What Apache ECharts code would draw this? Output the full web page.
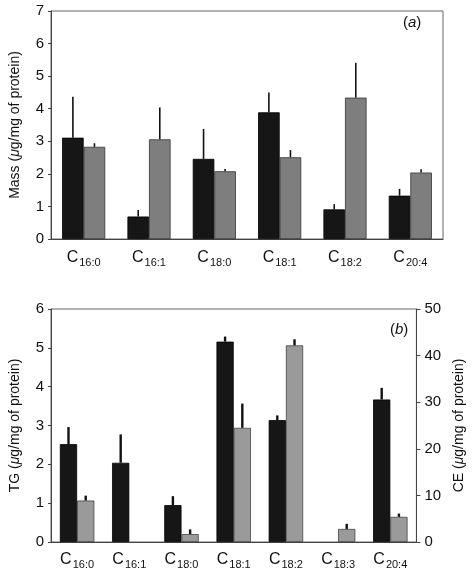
<!DOCTYPE html>
<html><head><meta charset="utf-8">
<script src="https://cdn.jsdelivr.net/npm/echarts@6/dist/echarts.min.js"></script>
<style>html,body{margin:0;padding:0;background:#fff}#c{width:474px;height:570px}</style>
</head><body><div id="c"></div>
<script>
// Panel (a)
const catsA = ['16:0','16:1','18:0','18:1','18:2','20:4'];
const massBlack = [3.11, 0.69, 2.46, 3.89, 0.91, 1.33];
const massBlackErr = [1.26, 0.20, 0.92, 0.61, 0.16, 0.21];
const massGray = [2.83, 3.06, 2.08, 2.51, 4.34, 2.04];
const massGrayErr = [0.11, 0.98, 0.07, 0.22, 1.07, 0.10];
// Panel (b)
const catsB = ['16:0','16:1','18:0','18:1','18:2','18:3','20:4'];
const tgVals = [2.52, 2.04, 0.95, 5.16, 3.14, null, 3.67];
const tgErr = [0.44, 0.73, 0.23, 0.13, 0.12, null, 0.30];
const ceVals = [8.9, null, 1.7, 24.5, 42.2, 2.8, 5.4];
const ceErr = [1.05, null, 1.0, 5.2, 1.3, 1.1, 0.7];

const FONT = 'Liberation Sans, Arial, Helvetica, sans-serif';
const GAP = 0.34;

function catLabel(v){ return '{c|C}{s|' + v + '}'; }
const catRich = {
  c: {fontSize: 16, fontFamily: FONT, color: '#111'},
  s: {fontSize: 11, fontFamily: FONT, color: '#111', padding:[9,0,0,1]}
};
function yName(prefix){ return '{n|' + prefix + ' (}{i|μ}{n|g/mg of protein)}'; }
const nameRich = {
  n: {fontSize: 14, fontFamily: FONT, color: '#111'},
  i: {fontSize: 14, fontFamily: FONT, color: '#111', fontStyle: 'italic'}
};
const panelRich = {
  n: {fontSize: 15, fontFamily: FONT, color: '#111'},
  i: {fontSize: 15, fontFamily: FONT, color: '#111', fontStyle: 'italic'}
};

function errData(vals, errs){
  return vals.map((v,i)=> (v==null||errs[i]==null) ? [i, null, null] : [i, v, v+errs[i]]);
}
function errSeries(vals, errs, xi, yi, side, width){
  return {
    type: 'custom', xAxisIndex: xi, yAxisIndex: yi, z: 5,
    data: errData(vals, errs),
    renderItem: function(params, api){
      if (api.value(1) == null || isNaN(api.value(1))) return null;
      const band = api.size([1, 0])[0];
      const bw = band * (1 - GAP) / 2;
      const base = api.coord([api.value(0), api.value(1)]);
      const top = api.coord([api.value(0), api.value(2)]);
      const x = base[0] + side * bw / 2;
      return {type: 'line', shape: {x1: x, y1: base[1], x2: x, y2: top[1]},
              style: {stroke: '#111', lineWidth: width}};
    }
  };
}

const axisLineStyle = {lineStyle: {color: '#444', width: 1}};
const chart = echarts.init(document.getElementById('c'));
chart.setOption({
  animation: false,
  textStyle: {fontFamily: FONT},
  graphic: [
    {type: 'text', left: 403, top: 15, style: {text: '({i|a})', rich: panelRich, font: '15px ' + FONT, fill: '#111'}},
    {type: 'text', left: 390, top: 322, style: {text: '({i|b})', rich: panelRich, font: '15px ' + FONT, fill: '#111'}}
  ],
  grid: [
    {left: 44, right: 31, top: 11, bottom: 331, show: true, borderColor: '#666', borderWidth: 1},
    {left: 44, right: 47, top: 309, bottom: 27, show: true, borderColor: '#666', borderWidth: 1}
  ],
  xAxis: [
    {gridIndex: 0, type: 'category', data: catsA, axisLine: axisLineStyle,
     axisTick: {alignWithLabel: true, length: 4, lineStyle: {color: '#444'}},
     axisLabel: {interval: 0, formatter: catLabel, rich: catRich, margin: 9}},
    {gridIndex: 1, type: 'category', data: catsB, axisLine: axisLineStyle,
     axisTick: {alignWithLabel: true, length: 4, lineStyle: {color: '#444'}},
     axisLabel: {interval: 0, formatter: catLabel, rich: catRich, margin: 8}}
  ],
  yAxis: [
    {gridIndex: 0, type: 'value', min: 0, max: 7, interval: 1, splitLine: {show: false},
     axisLine: {show: true, lineStyle: {color: '#444'}}, axisTick: {show: true, length: 3, lineStyle:{color:'#444'}},
     axisLabel: {fontSize: 15, color: '#111', margin: 7},
     name: yName('Mass'), nameLocation: 'middle', nameGap: 29, nameRotate: 90,
     nameTextStyle: {rich: nameRich}},
    {gridIndex: 1, type: 'value', min: 0, max: 6, interval: 1, splitLine: {show: false},
     axisLine: {show: true, lineStyle: {color: '#444'}}, axisTick: {show: true, length: 3, lineStyle:{color:'#444'}},
     axisLabel: {fontSize: 15, color: '#111', margin: 7},
     name: yName('TG'), nameLocation: 'middle', nameGap: 29, nameRotate: 90,
     nameTextStyle: {rich: nameRich}},
    {gridIndex: 1, type: 'value', position: 'right', min: 0, max: 50, interval: 10, splitLine: {show: false},
     axisLine: {show: true, lineStyle: {color: '#444'}}, axisTick: {show: true, length: 4, lineStyle:{color:'#444'}},
     axisLabel: {fontSize: 15, color: '#111', margin: 8},
     name: yName('CE'), nameLocation: 'middle', nameGap: 34, nameRotate: 90,
     nameTextStyle: {rich: nameRich}}
  ],
  series: [
    {type: 'bar', xAxisIndex: 0, yAxisIndex: 0, data: massBlack, barGap: '0%', barCategoryGap: '34%',
     itemStyle: {color: '#161616', borderColor: '#000', borderWidth: 0.8}},
    {type: 'bar', xAxisIndex: 0, yAxisIndex: 0, data: massGray, barGap: '0%', barCategoryGap: '34%',
     itemStyle: {color: '#7e7e7e', borderColor: '#333', borderWidth: 0.8}},
    errSeries(massBlack, massBlackErr, 0, 0, -1, 1.6),
    errSeries(massGray, massGrayErr, 0, 0, 1, 1.6),
    {type: 'bar', xAxisIndex: 1, yAxisIndex: 1, data: tgVals, barGap: '0%', barCategoryGap: '34%',
     itemStyle: {color: '#161616', borderColor: '#000', borderWidth: 0.8}},
    {type: 'bar', xAxisIndex: 1, yAxisIndex: 2, data: ceVals, barGap: '0%', barCategoryGap: '34%',
     itemStyle: {color: '#9a9a9a', borderColor: '#444', borderWidth: 0.8}},
    errSeries(tgVals, tgErr, 1, 1, -1, 2.4),
    errSeries(ceVals, ceErr, 1, 2, 1, 2.4)
  ]
});
</script></body></html>
